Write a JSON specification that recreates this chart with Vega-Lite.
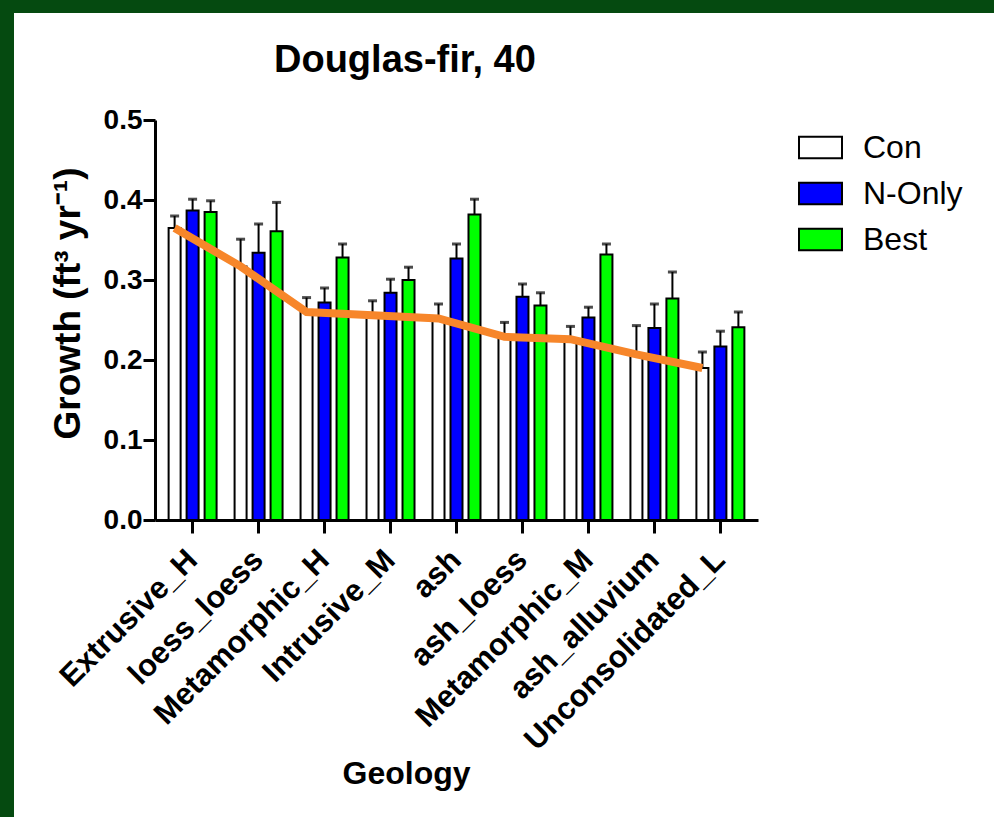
{
  "$schema": "https://vega.github.io/schema/vega-lite/v6.json",
  "background": "white",
  "padding": 0,
  "config": {
    "font": "Liberation Sans",
    "view": {"stroke": null}
  },
  "resolve": {"legend": {"fill": "independent"}, "scale": {"fill": "independent"}},
  "columns": 1,
  "align": "none",
  "spacing": 0,
  "concat": [
    {
      "width": 994,
      "height": 13,
      "data": {"values": []},
      "mark": "rect",
      "view": {"fill": "#054a10", "stroke": null}
    },
    {
      "columns": 2,
      "align": "none",
      "spacing": 35,
      "resolve": {"legend": {"fill": "independent"}, "scale": {"fill": "independent"}},
      "concat": [
        {
          "width": 14,
          "height": 804,
          "data": {"values": []},
          "mark": "rect",
          "view": {"fill": "#054a10", "stroke": null}
        },
        {
          "width": 603,
          "height": 507,
          "title": {
            "text": "Douglas-fir, 40",
            "fontSize": 38,
            "fontWeight": "bold",
            "font": "Liberation Sans",
            "color": "black",
            "anchor": "start",
            "frame": "group",
            "dx": 119,
            "offset": -67
          },
          "data": {
            "values": [
              {"Geology": "Extrusive_H", "Treatment": "Con", "Growth": 0.365, "Upper": 0.380},
              {"Geology": "Extrusive_H", "Treatment": "N-Only", "Growth": 0.387, "Upper": 0.401},
              {"Geology": "Extrusive_H", "Treatment": "Best", "Growth": 0.385, "Upper": 0.399},
              {"Geology": "loess_loess", "Treatment": "Con", "Growth": 0.317, "Upper": 0.351},
              {"Geology": "loess_loess", "Treatment": "N-Only", "Growth": 0.334, "Upper": 0.370},
              {"Geology": "loess_loess", "Treatment": "Best", "Growth": 0.361, "Upper": 0.397},
              {"Geology": "Metamorphic_H", "Treatment": "Con", "Growth": 0.260, "Upper": 0.278},
              {"Geology": "Metamorphic_H", "Treatment": "N-Only", "Growth": 0.272, "Upper": 0.290},
              {"Geology": "Metamorphic_H", "Treatment": "Best", "Growth": 0.328, "Upper": 0.345},
              {"Geology": "Intrusive_M", "Treatment": "Con", "Growth": 0.256, "Upper": 0.274},
              {"Geology": "Intrusive_M", "Treatment": "N-Only", "Growth": 0.284, "Upper": 0.301},
              {"Geology": "Intrusive_M", "Treatment": "Best", "Growth": 0.300, "Upper": 0.316},
              {"Geology": "ash", "Treatment": "Con", "Growth": 0.252, "Upper": 0.270},
              {"Geology": "ash", "Treatment": "N-Only", "Growth": 0.327, "Upper": 0.345},
              {"Geology": "ash", "Treatment": "Best", "Growth": 0.382, "Upper": 0.401},
              {"Geology": "ash_loess", "Treatment": "Con", "Growth": 0.229, "Upper": 0.247},
              {"Geology": "ash_loess", "Treatment": "N-Only", "Growth": 0.279, "Upper": 0.295},
              {"Geology": "ash_loess", "Treatment": "Best", "Growth": 0.268, "Upper": 0.284},
              {"Geology": "Metamorphic_M", "Treatment": "Con", "Growth": 0.226, "Upper": 0.242},
              {"Geology": "Metamorphic_M", "Treatment": "N-Only", "Growth": 0.253, "Upper": 0.266},
              {"Geology": "Metamorphic_M", "Treatment": "Best", "Growth": 0.332, "Upper": 0.345},
              {"Geology": "ash_alluvium", "Treatment": "Con", "Growth": 0.207, "Upper": 0.243},
              {"Geology": "ash_alluvium", "Treatment": "N-Only", "Growth": 0.240, "Upper": 0.270},
              {"Geology": "ash_alluvium", "Treatment": "Best", "Growth": 0.277, "Upper": 0.310},
              {"Geology": "Unconsolidated_L", "Treatment": "Con", "Growth": 0.190, "Upper": 0.210},
              {"Geology": "Unconsolidated_L", "Treatment": "N-Only", "Growth": 0.217, "Upper": 0.236},
              {"Geology": "Unconsolidated_L", "Treatment": "Best", "Growth": 0.241, "Upper": 0.260}
            ]
          },
          "encoding": {
            "x": {
              "field": "Geology",
              "type": "nominal",
              "sort": ["Extrusive_H", "loess_loess", "Metamorphic_H", "Intrusive_M", "ash", "ash_loess", "Metamorphic_M", "ash_alluvium", "Unconsolidated_L"],
              "scale": {"paddingInner": 0, "paddingOuter": 0.07},
              "axis": {
                "title": "Geology",
                "titleFontSize": 32,
                "titleFontWeight": "bold",
                "titleColor": "black",
                "titleAnchor": "start",
                "titleX": 187,
                "titleY": 263,
                "titleBaseline": "alphabetic",
                "labelAngle": -45,
                "labelAlign": "right",
                "labelBaseline": "middle",
                "labelFontSize": 31,
                "labelFontWeight": "bold",
                "labelColor": "black",
                "labelPadding": 22,
                "labelLimit": 0,
                "labelOverlap": false,
                "tickSize": 13,
                "tickWidth": 3,
                "tickColor": "black",
                "domainColor": "black",
                "domainWidth": 3,
                "grid": false
              }
            },
            "xOffset": {
              "field": "Treatment",
              "type": "nominal",
              "scale": {"domain": ["Con", "N-Only", "Best"], "paddingInner": 0.333, "paddingOuter": 0.5}
            },
            "y": {
              "field": "Growth",
              "type": "quantitative",
              "scale": {"domain": [0, 0.5], "range": [507, 107], "nice": false, "zero": true},
              "axis": {
                "title": "Growth (ft³ yr⁻¹)",
                "titleFontSize": 37,
                "titleFontWeight": "bold",
                "titleColor": "black",
                "titlePadding": 16,
                "titleY": 290,
                "values": [0, 0.1, 0.2, 0.3, 0.4, 0.5],
                "format": ".1f",
                "labelFontSize": 28,
                "labelFontWeight": "bold",
                "labelColor": "black",
                "labelPadding": 1,
                "tickSize": 12,
                "tickWidth": 3,
                "tickColor": "black",
                "domainColor": "black",
                "domainWidth": 3,
                "grid": false
              }
            }
          },
          "layer": [
            {
              "mark": {"type": "bar", "stroke": "black", "strokeWidth": 2},
              "encoding": {
                "fill": {
                  "field": "Treatment",
                  "type": "nominal",
                  "scale": {"domain": ["Con", "N-Only", "Best"], "range": ["#ffffff", "#0000ff", "#00ff00"]},
                  "legend": {
                    "title": null,
                    "orient": "none",
                    "legendX": 640,
                    "legendY": 109,
                    "padding": 3,
                    "symbolType": "M-1,-0.5H1V0.5H-1Z",
                    "symbolSize": 1849,
                    "symbolStrokeColor": "black",
                    "symbolStrokeWidth": 2,
                    "symbolOpacity": 1,
                    "labelFontSize": 32,
                    "labelColor": "black",
                    "labelOffset": 20,
                    "rowPadding": 7
                  }
                }
              }
            },
            {
              "mark": {"type": "rule", "color": "black", "strokeWidth": 2},
              "encoding": {
                "y2": {"field": "Upper"}
              }
            },
            {
              "mark": {"type": "tick", "color": "black", "orient": "horizontal", "size": 9, "thickness": 3},
              "encoding": {
                "y": {"field": "Upper", "type": "quantitative"}
              }
            },
            {
              "transform": [{"filter": "datum.Treatment === 'Con'"}],
              "mark": {"type": "line", "color": "#f7862a", "strokeWidth": 8},
              "encoding": {}
            }
          ]
        }
      ]
    }
  ]
}
